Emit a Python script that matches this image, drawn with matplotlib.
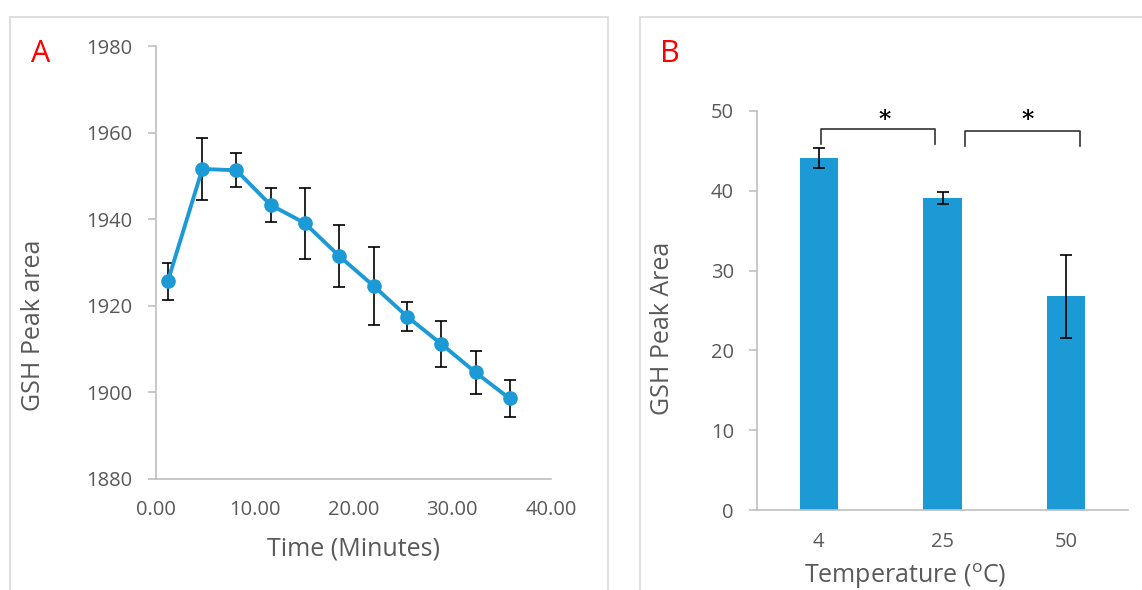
import matplotlib.pyplot as plt
from matplotlib.patches import Rectangle

plt.rcParams['font.family'] = ['Open Sans', 'DejaVu Sans']
plt.rcParams['mathtext.fontset'] = 'custom'
plt.rcParams['mathtext.rm'] = 'Open Sans'

# panel A: GSH peak area over time
time_min = [1.2, 4.69, 8.13, 11.6, 15.06, 18.55, 22.03, 25.44, 28.88, 32.37, 35.8]
peak_area = [1925.7, 1951.6, 1951.3, 1943.3, 1939.1, 1931.5, 1924.6, 1917.5, 1911.2, 1904.6, 1898.6]
peak_err = [4.3, 7.1, 3.9, 4.0, 8.2, 7.2, 9.0, 3.3, 5.3, 5.0, 4.2]

# panel B: GSH peak area by temperature
temps = ['4', '25', '50']
temp_area = [44.1, 39.1, 26.8]
temp_err = [1.3, 0.8, 5.2]

blue = '#1c9ad6'
grey_txt = '#595959'
spine_col = '#bfbfbf'

W, H = 1142, 590
fig = plt.figure(figsize=(W / 100, H / 100), dpi=100)

# panel frames (Excel chart areas)
fig.patches.append(Rectangle((10 / W, -0.01), (608 - 10) / W, 1 - 17 / H + 0.01,
                             transform=fig.transFigure, fill=False, edgecolor='#d9d9d9', lw=1.2))
fig.patches.append(Rectangle((640 / W, -0.01), 0.5, 1 - 17 / H + 0.01,
                             transform=fig.transFigure, fill=False, edgecolor='#d9d9d9', lw=1.2))


def style_axes(ax, ypad, xpad):
    for s in ['top', 'right']:
        ax.spines[s].set_visible(False)
    for s in ['left', 'bottom']:
        ax.spines[s].set_color(spine_col)
        ax.spines[s].set_linewidth(1.2)
    ax.tick_params(axis='y', colors=spine_col, labelcolor=grey_txt, labelsize=14.5,
                   length=5.8, width=1.2, pad=ypad)
    ax.tick_params(axis='x', length=0, labelcolor=grey_txt, labelsize=14.5, pad=xpad)


axA = fig.add_axes([156 / W, 1 - 479 / H, (551 - 156) / W, (479 - 46) / H])
axA.errorbar(time_min, peak_area, yerr=peak_err, color=blue, lw=2.8, marker='o', ms=9.5,
             ecolor='black', elinewidth=1.2, capsize=4, capthick=1.2, zorder=3)
axA.set_xlim(0, 40)
axA.set_ylim(1880, 1980)
axA.set_xticks([0, 10, 20, 30, 40])
axA.set_xticklabels(['%.2f' % v for v in [0, 10, 20, 30, 40]])
axA.set_yticks(range(1880, 1981, 20))
style_axes(axA, 11.5, 15)
axA.set_xlabel('Time (Minutes)', fontsize=18, color=grey_txt, va='center')
axA.xaxis.set_label_coords(0.499, -0.162)
axA.set_ylabel('GSH Peak area', fontsize=18, color=grey_txt, va='center')
axA.yaxis.set_label_coords(-0.311, 0.354)
fig.text(40.5 / W, 1 - 54 / H, 'A', color='red', fontsize=22, ha='center', va='center')

axB = fig.add_axes([757 / W, 1 - 510 / H, (1128 - 757) / W, (510 - 111) / H])
xs = range(len(temps))
axB.bar(xs, temp_area, width=0.31, color=blue, zorder=2)
axB.errorbar(xs, temp_area, yerr=temp_err, fmt='none', ecolor='black', elinewidth=1.2,
             capsize=4, capthick=1.2, zorder=3)
axB.set_xlim(-0.5, 2.5)
axB.set_ylim(0, 50)
axB.set_xticks(list(xs))
axB.set_xticklabels(temps)
axB.set_yticks(range(0, 51, 10))
style_axes(axB, 10.8, 16)
axB.set_xlabel(r'Temperature ($\mathregular{^{o}}$C)', fontsize=18, color=grey_txt, va='center')
axB.xaxis.set_label_coords(0.399, -0.165)
axB.set_ylabel('GSH Peak Area', fontsize=18, color=grey_txt, va='center')
axB.yaxis.set_label_coords(-0.254, 0.456)
fig.text(670 / W, 1 - 54 / H, 'B', color='red', fontsize=22, ha='center', va='center')

# significance brackets and stars
brackets = [(0.02, 0.94, 47.7, 45.9), (1.18, 2.11, 47.5, 45.6)]
stars = [(0.53, 48.9), (1.69, 48.9)]
for (x0, x1, top, bot), (sx, sy) in zip(brackets, stars):
    axB.plot([x0, x0, x1, x1], [bot, top, top, bot], color='#333333', lw=1.2, clip_on=False)
    axB.text(sx, sy, '*', fontsize=17, family='DejaVu Serif', fontweight='bold',
             ha='center', va='center', color='black')

fig.savefig('out.png', dpi=100)
